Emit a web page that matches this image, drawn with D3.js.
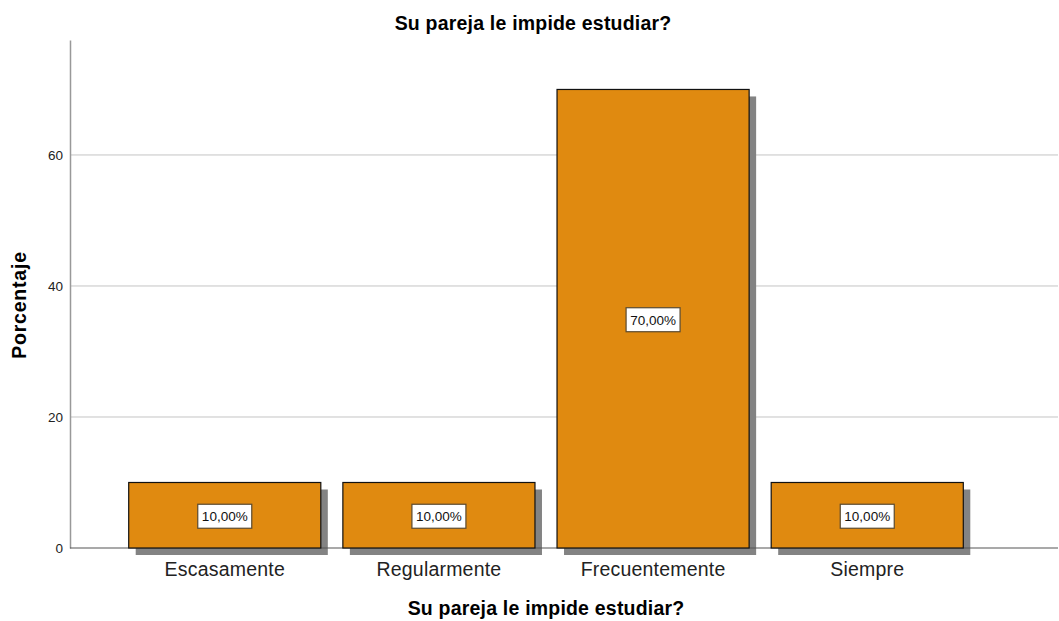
<!DOCTYPE html>
<html>
<head>
<meta charset="utf-8">
<script src="https://cdn.jsdelivr.net/npm/d3@7"></script>
<style>
  body { margin: 0; background: #fff; }
  text { font-family: Arial, "Liberation Sans", sans-serif; }
</style>
</head>
<body>
<svg class="chart" width="1059" height="621"></svg>
<script>
var categories = ["Escasamente", "Regularmente", "Frecuentemente", "Siempre"];
var values = [10, 10, 70, 10];
var labels = ["10,00%", "10,00%", "70,00%", "10,00%"];
var yTicks = [0, 20, 40, 60];

var margin = {top: 40, right: 1, bottom: 73, left: 70},
    width = 1059 - margin.left - margin.right,
    height = 621 - margin.top - margin.bottom;

var svg = d3.select(".chart");
var chart = svg.append("g")
    .attr("transform", "translate(" + margin.left + "," + margin.top + ")");

// 0..70 spans 548 -> 89 in the picture
var y = d3.scaleLinear().domain([0, 77.55]).range([height, 0]);
var x = d3.scaleBand().domain(categories).range([48, 904]).paddingInner(0.103).paddingOuter(0.05);

// gridlines
chart.selectAll(".grid")
    .data(yTicks.filter(function(d) { return d > 0; }))
    .enter().append("line")
    .attr("x1", 0).attr("x2", width)
    .attr("y1", function(d) { return y(d); })
    .attr("y2", function(d) { return y(d); })
    .attr("stroke", "#c4c4c4")
    .attr("stroke-width", 1);

// y axis
var yAxis = chart.append("g").call(d3.axisLeft(y).tickValues(yTicks).tickSize(0).tickPadding(7));
yAxis.select(".domain").attr("stroke", "#999").attr("stroke-width", 1.5);
yAxis.selectAll("text").attr("font-size", 13.5).attr("fill", "#222")
    .attr("font-family", "Arial, 'Liberation Sans', sans-serif");

// shadows
var sh = 7;
chart.selectAll(".shadow")
    .data(values)
    .enter().append("rect")
    .attr("x", function(d, i) { return x(categories[i]) + sh; })
    .attr("y", function(d) { return y(d) + sh; })
    .attr("width", x.bandwidth())
    .attr("height", function(d) { return height - y(d); })
    .attr("fill", "#838383");

// baseline
chart.append("line")
    .attr("x1", 0).attr("x2", width)
    .attr("y1", height).attr("y2", height)
    .attr("stroke", "#555").attr("stroke-width", 1.2);

// bars
chart.selectAll(".bar")
    .data(values)
    .enter().append("rect")
    .attr("x", function(d, i) { return x(categories[i]); })
    .attr("y", function(d) { return y(d); })
    .attr("width", x.bandwidth())
    .attr("height", function(d) { return height - y(d); })
    .attr("fill", "#e08a10")
    .attr("stroke", "#111")
    .attr("stroke-width", 1.2);

// value labels
var lab = chart.selectAll(".lab")
    .data(values)
    .enter().append("g")
    .attr("transform", function(d, i) {
        return "translate(" + (x(categories[i]) + x.bandwidth() / 2) + "," + (y(d / 2) + 1) + ")";
    });
lab.append("rect")
    .attr("x", -27).attr("y", -12).attr("width", 54).attr("height", 24)
    .attr("fill", "#fff").attr("stroke", "#5a4a30").attr("stroke-width", 1.2);
lab.append("text")
    .attr("text-anchor", "middle").attr("dy", "0.36em")
    .attr("font-size", 13.5).attr("fill", "#111")
    .text(function(d, i) { return labels[i]; });

// x tick labels
chart.selectAll(".xl")
    .data(categories)
    .enter().append("text")
    .attr("x", function(d) { return x(d) + x.bandwidth() / 2; })
    .attr("y", height + 28)
    .attr("text-anchor", "middle")
    .attr("font-size", 19.5).attr("letter-spacing", 0.2).attr("fill", "#222")
    .text(function(d) { return d; });

// titles
svg.append("text")
    .attr("x", 533).attr("y", 30)
    .attr("text-anchor", "middle")
    .attr("font-size", 19.5).attr("font-weight", "bold").attr("letter-spacing", 0.2)
    .text("Su pareja le impide estudiar?");

svg.append("text")
    .attr("x", 546).attr("y", 615)
    .attr("text-anchor", "middle")
    .attr("font-size", 19.5).attr("font-weight", "bold").attr("letter-spacing", 0.2)
    .text("Su pareja le impide estudiar?");

svg.append("text")
    .attr("transform", "translate(26,305) rotate(-90)")
    .attr("text-anchor", "middle")
    .attr("font-size", 19.5).attr("font-weight", "bold").attr("letter-spacing", 0.8)
    .text("Porcentaje");
</script>
</body>
</html>
